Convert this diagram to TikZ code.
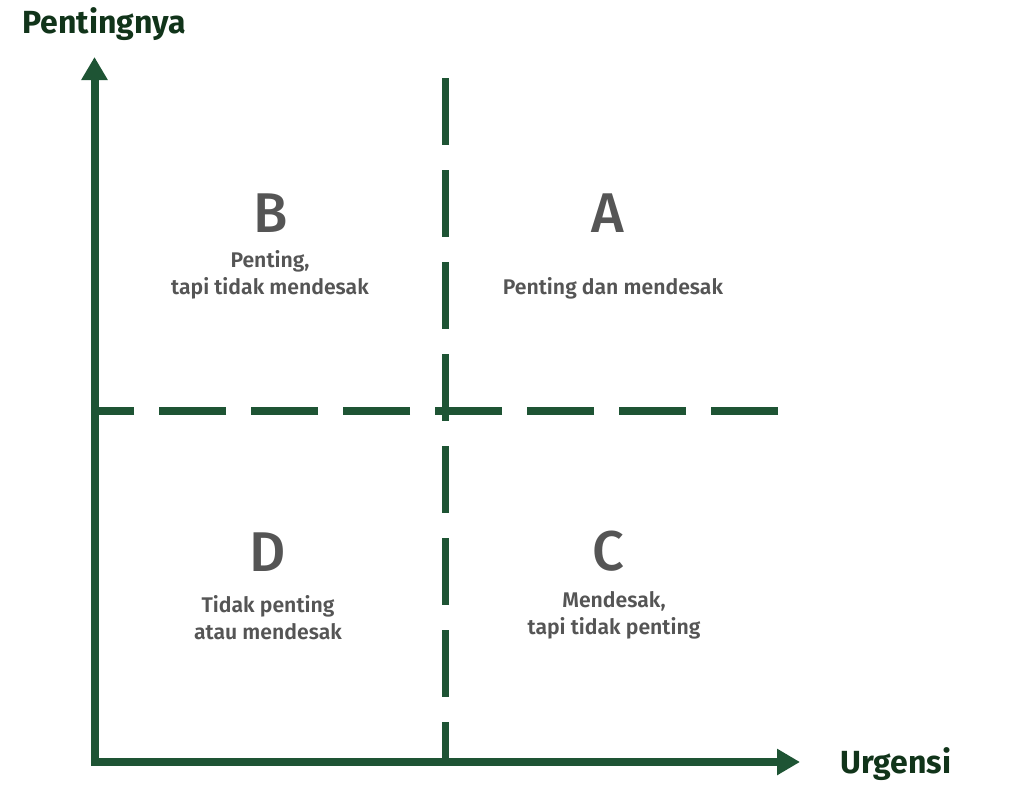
\documentclass[tikz,border=0pt]{standalone}
\usepackage{fontspec}
\setmainfont{Fira Sans}
\newfontfamily\medfont{Fira Sans Medium}
\newfontfamily\semifont{Fira Sans SemiBold}
\usetikzlibrary{arrows.meta}
\definecolor{axisgreen}{RGB}{30,84,52}
\definecolor{labelgreen}{RGB}{17,52,26}
\definecolor{quadgray}{RGB}{85,85,85}
\begin{document}
\begin{tikzpicture}[x=0.5pt,y=-0.5pt,
  axis/.style={draw=axisgreen,line width=4pt,line join=miter},
  divider/.style={draw=axisgreen,line width=3.75pt,dash pattern=on 33.5pt off 12.5pt},
  letter/.style={text=quadgray,font=\medfont\fontsize{28}{30}\selectfont,inner sep=0pt},
  desc/.style={text=quadgray,font=\semifont\fontsize{10.6}{13.5}\selectfont,align=center,inner sep=0pt},
  axislabel/.style={text=labelgreen,font=\bfseries\fontsize{16}{18}\selectfont,inner sep=0pt}]
\useasboundingbox (0,0) rectangle (1024,788);
\coordinate (origin) at (94.5,762);
\coordinate (ytip) at (94.5,57);
\coordinate (xtip) at (800,762);
\coordinate (hdivR) at (778,411);
\coordinate (hdivL) at (94.5,411);
\coordinate (vdivT) at (445.5,78);
\coordinate (vdivB) at (445.5,762);
\draw[divider] (hdivR) -- (hdivL);
\draw[divider] (vdivT) -- (vdivB);
\draw[axis,{Triangle[length=11.5pt,width=12.5pt]}-{Triangle[length=11.5pt,width=12.5pt]}] (ytip) -- (origin) -- (xtip);
\node[axislabel,anchor=base west] (ylabel) at (22,33) {Pentingnya};
\node[axislabel,anchor=base west] (xlabel) at (840,773) {Urgensi};
\node[letter] (B) at (270.5,213) {B};
\node[desc] (Bdesc) at (270,275) {Penting,\\tapi tidak mendesak};
\node[letter] (A) at (608,213) {A};
\node[desc] (Adesc) at (613,288) {Penting dan mendesak};
\node[letter] (D) at (268,552) {D};
\node[desc] (Ddesc) at (268,618) {Tidak penting\\atau mendesak};
\node[letter] (C) at (608.5,551.5) {C};
\node[desc] (Cdesc) at (614,615) {Mendesak,\\tapi tidak penting};
\end{tikzpicture}
\end{document}
